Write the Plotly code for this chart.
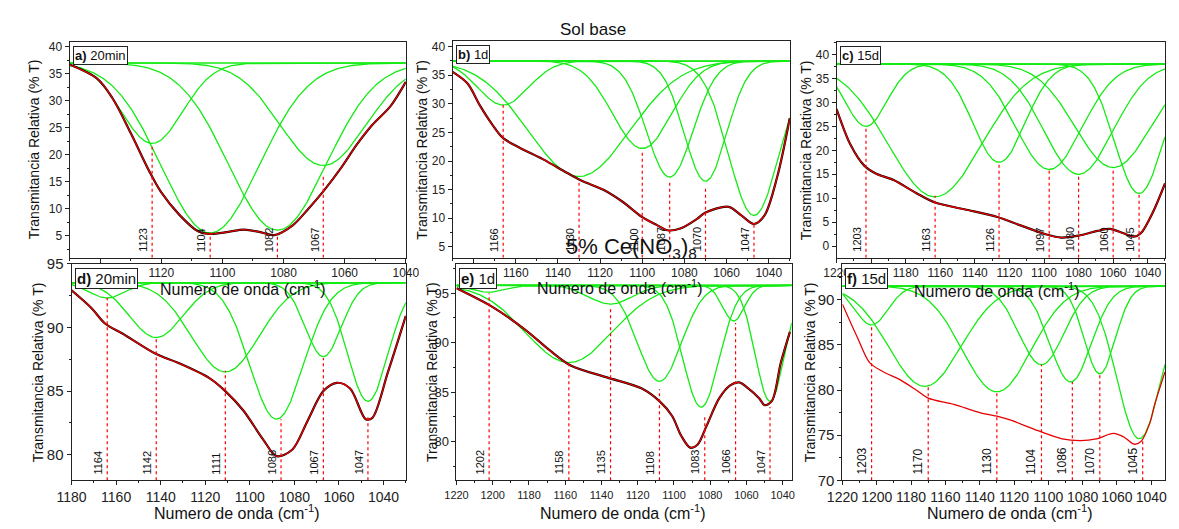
import numpy as np
import plotly.graph_objects as go

W, H = 1179, 529
FONT = "Liberation Sans, Arial, sans-serif"

# ----------------------------- data -----------------------------
# a) 20min  (Sol base)
a_wn = [1150, 1141, 1136, 1130, 1124, 1120, 1114, 1108, 1104, 1098, 1093, 1088, 1083, 1077, 1072, 1067, 1061, 1056, 1051, 1045, 1040]
a_T = [36.7, 34.1, 30.5, 24.0, 17.0, 13.0, 8.8, 5.8, 5.3, 5.7, 6.1, 5.7, 5.1, 6.9, 9.9, 13.2, 17.7, 21.9, 25.5, 29.0, 33.5]
a_pk_center = [1123, 1104, 1082, 1067]
a_pk_min = [22.1, 5.5, 6.0, 18.0]
a_pk_width = [10, 16, 16, 14]
a_lines = [1123, 1104, 1082, 1067]
a_line_top = [22.0, 5.6, 5.4, 16.4]
a_baseline = 37.0

# b) 1d  (Sol base)
b_wn = [1190, 1183, 1177, 1171, 1166, 1158, 1147, 1136, 1129, 1118, 1109, 1100, 1093, 1088, 1082, 1074, 1070, 1059, 1053, 1047, 1042, 1036, 1030]
b_T = [35.6, 33.6, 29.7, 26.3, 24.0, 22.3, 20.3, 18.0, 16.6, 14.9, 12.8, 10.2, 8.8, 7.9, 8.2, 9.9, 11.0, 12.0, 10.5, 9.0, 10.5, 17.2, 27.5]
b_pk_center = [1166, 1130, 1100, 1087, 1070, 1047]
b_pk_min = [29.8, 17.3, 22.2, 17.2, 16.5, 10.5]
b_pk_width = [12, 24, 14, 11, 10, 12]
b_lines = [1166, 1130, 1100, 1087, 1070, 1047]
b_line_top = [29.8, 16.5, 22.0, 16.2, 15.2, 9.2]
b_baseline = 37.5

# c) 15d  (Sol base)
c_wn = [1220, 1212, 1204, 1197, 1187, 1174, 1163, 1146, 1127, 1114, 1099, 1090, 1080, 1069, 1062, 1054, 1048, 1044, 1037, 1030]
c_T = [28.6, 21.2, 16.8, 15.1, 13.8, 11.1, 9.1, 7.7, 6.1, 4.4, 2.5, 1.8, 2.2, 3.2, 3.6, 2.7, 2.0, 2.7, 7.1, 13.1]
c_pk_center = [1203, 1163, 1126, 1097, 1080, 1060, 1045]
c_pk_min = [25.0, 10.3, 17.5, 16.0, 15.0, 16.4, 11.0]
c_pk_width = [12, 27, 15, 19, 20, 22, 14]
c_lines = [1203, 1163, 1126, 1097, 1080, 1060, 1045]
c_line_top = [25.0, 10.5, 17.5, 16.0, 15.0, 16.4, 11.0]
c_baseline = 38.0

# d) 20min  (5% Ce(NO3))
d_wn = [1180, 1171, 1165, 1157, 1142, 1132, 1118, 1111, 1103, 1094, 1088, 1081, 1074, 1067, 1061, 1055, 1048, 1045, 1038, 1030]
d_T = [92.9, 91.5, 90.3, 89.5, 87.9, 87.2, 86.0, 85.0, 83.5, 81.2, 79.9, 80.4, 82.7, 85.0, 85.65, 85.2, 82.8, 82.9, 86.5, 90.9]
d_pk_center = [1164, 1142, 1111, 1088, 1067, 1047]
d_pk_min = [92.3, 89.2, 86.5, 82.8, 87.7, 84.2]
d_pk_width = [8, 12, 15, 12, 8, 9]
d_lines = [1164, 1142, 1111, 1086, 1067, 1047]
d_line_top = [92.3, 89.2, 86.6, 82.8, 87.6, 83.0]
d_baseline = 93.5

# e) 1d  (5% Ce(NO3))
e_wn = [1220, 1200, 1182, 1169, 1157, 1137, 1118, 1108, 1101, 1096, 1091, 1087, 1082, 1075, 1069, 1064, 1059, 1053, 1050, 1046, 1041, 1036]
e_T = [95.5, 93.6, 91.3, 89.3, 87.7, 86.5, 85.4, 84.1, 82.6, 80.6, 79.4, 79.7, 81.6, 84.4, 85.7, 86.0, 85.4, 84.4, 83.7, 84.1, 88.0, 91.1]
e_pk_center = [1202, 1158, 1135, 1108, 1085, 1067, 1047]
e_pk_min = [95.1, 88.0, 93.9, 86.1, 83.5, 92.2, 84.1]
e_pk_width = [9, 24, 12, 12, 10, 6, 8]
e_lines = [1202, 1158, 1135, 1108, 1083, 1066, 1047]
e_line_top = [95.0, 88.0, 93.6, 85.3, 82.7, 92.0, 83.5]
e_baseline = 95.8

# f) 15d  (5% Ce(NO3))
f_wn = [1220, 1211, 1204, 1196, 1187, 1177, 1170, 1155, 1140, 1130, 1121, 1106, 1092, 1081, 1072, 1062, 1056, 1050, 1046, 1041, 1038, 1032]
f_T = [89.5, 85.7, 83.0, 82.0, 81.2, 80.0, 79.1, 78.4, 77.5, 77.1, 76.6, 75.5, 74.6, 74.4, 74.6, 75.2, 74.8, 74.0, 74.3, 76.25, 78.4, 82.0]
f_pk_center = [1203, 1172, 1130, 1104, 1087, 1070, 1047]
f_pk_min = [87.2, 80.4, 79.8, 82.8, 80.9, 81.8, 74.6]
f_pk_width = [9.5, 21, 20, 13, 12, 9, 13]
f_lines = [1203, 1170, 1130, 1104, 1086, 1070, 1045]
f_line_top = [87.2, 80.4, 79.8, 82.8, 80.9, 81.8, 74.6]
f_baseline = 91.5

panel_labels = ["<b>a)</b> 20min", "<b>b)</b> 1d", "<b>c)</b> 15d",
                "<b>d)</b> 20min", "<b>e)</b> 1d", "<b>f)</b> 15d"]
title_top = "Sol base"
title_bottom = "5% Ce(NO<sub>3</sub>)<sub>8</sub>"
x_title = "Numero de onda (cm<sup>-1</sup>)"
y_title = "Transmitancia Relativa (% T)"

# ----------------------------- layout geometry -----------------------------
panels = [
    dict(wn=a_wn, T=a_T, pc=a_pk_center, pm=a_pk_min, pw=a_pk_width, ln=a_lines, lt=a_line_top, base=a_baseline,
         xr=[1150, 1040], yr=[0.9, 40.9], box=(55, 34, 400, 257), black=True,
         xtf=12, ytf=12, nf=11, lf=13, ytx=18, xty=288, xtx=233),
    dict(wn=b_wn, T=b_T, pc=b_pk_center, pm=b_pk_min, pw=b_pk_width, ln=b_lines, lt=b_line_top, base=b_baseline,
         xr=[1190, 1030], yr=[3.1, 41.0], box=(448, 33, 794, 257), black=True,
         xtf=12, ytf=12, nf=11, lf=13, ytx=417, xty=287, xtx=620),
    dict(wn=c_wn, T=c_T, pc=c_pk_center, pm=c_pk_min, pw=c_pk_width, ln=c_lines, lt=c_line_top, base=c_baseline,
         xr=[1220, 1030], yr=[-2.4, 42.6], box=(842, 34, 1179, 257), black=True,
         xtf=12, ytf=12, nf=11, lf=13, ytx=810, xty=290, xtx=1007),
    dict(wn=d_wn, T=d_T, pc=d_pk_center, pm=d_pk_min, pw=d_pk_width, ln=d_lines, lt=d_line_top, base=d_baseline,
         xr=[1180, 1030], yr=[78.0, 95.0], box=(57, 263, 400, 487), black=True,
         xtf=14, ytf=15, nf=11, lf=15, ytx=23, xty=520, xtx=227),
    dict(wn=e_wn, T=e_T, pc=e_pk_center, pm=e_pk_min, pw=e_pk_width, ln=e_lines, lt=e_line_top, base=e_baseline,
         xr=[1220, 1035], yr=[76.1, 98.0], box=(452, 263, 796, 487), black=True,
         xtf=11, ytf=13, nf=11, lf=15, ytx=427, xty=520, xtx=623),
    dict(wn=f_wn, T=f_T, pc=f_pk_center, pm=f_pk_min, pw=f_pk_width, ln=f_lines, lt=f_line_top, base=f_baseline,
         xr=[1220, 1032], yr=[70.0, 94.0], box=(848, 263, 1179, 487), black=False,
         xtf=14, ytf=15, nf=12, lf=15, ytx=815, xty=520, xtx=1020),
]

GREEN = "rgb(20,235,20)"
fig = go.Figure()
annotations = []

for i, p in enumerate(panels):
    n = i + 1
    sx = "" if n == 1 else str(n)
    xa, ya = "x" + sx, "y" + sx
    x0, y0, x1, y1 = p["box"]

    grid = np.linspace(min(p["xr"]), max(p["xr"]), 400)
    # baseline
    fig.add_trace(go.Scatter(x=[grid[0], grid[-1]], y=[p["base"], p["base"]], mode="lines",
                             line=dict(color=GREEN, width=1.6), xaxis=xa, yaxis=ya, hoverinfo="skip"))
    # gaussian components
    for c, m, w in zip(p["pc"], p["pm"], p["pw"]):
        yy = p["base"] - (p["base"] - m) * np.exp(-((grid - c) ** 2) / (2 * w ** 2))
        fig.add_trace(go.Scatter(x=grid, y=yy, mode="lines", line=dict(color=GREEN, width=1.3),
                                 xaxis=xa, yaxis=ya, hoverinfo="skip"))
    # experimental (black) + fit (red)
    if p["black"]:
        fig.add_trace(go.Scatter(x=p["wn"], y=p["T"], mode="lines",
                                 line=dict(color="black", width=2.2, shape="spline", smoothing=0.9),
                                 xaxis=xa, yaxis=ya))
    fig.add_trace(go.Scatter(x=p["wn"], y=p["T"], mode="lines",
                             line=dict(color="rgb(230,0,0)", width=1.3, shape="spline", smoothing=0.9),
                             xaxis=xa, yaxis=ya))
    # dashed peak markers
    for v, t in zip(p["ln"], p["lt"]):
        fig.add_trace(go.Scatter(x=[v, v], y=[p["yr"][0], t], mode="lines",
                                 line=dict(color="red", width=1.2, dash="dot"),
                                 xaxis=xa, yaxis=ya, hoverinfo="skip"))
        annotations.append(dict(x=v, y=0, xref=xa, yref=ya + " domain", text=str(v), showarrow=False,
                                textangle=-90, xanchor="right", yanchor="bottom", xshift=-1, yshift=4,
                                font=dict(size=p["nf"], color="#111", family=FONT)))

    tickfont_x = dict(size=p["xtf"], color="#222", family=FONT)
    tickfont_y = dict(size=p["ytf"], color="#222", family=FONT)
    fig.layout["xaxis" + sx] = dict(
        domain=[x0 / W, x1 / W], range=p["xr"], anchor=ya, tick0=1040, dtick=20,
        ticks="outside", ticklen=4, tickcolor="#222", showline=True, mirror=True,
        linecolor="#222", linewidth=1, showgrid=False, zeroline=False, tickfont=tickfont_x,
        minor=dict(ticks="outside", ticklen=2, tick0=1040, dtick=10, tickcolor="#222", showgrid=False))
    fig.layout["yaxis" + sx] = dict(
        domain=[1 - y1 / H, 1 - y0 / H], range=p["yr"], anchor=xa, tick0=0, dtick=5,
        ticks="outside", ticklen=4, tickcolor="#222", showline=True, mirror=True,
        linecolor="#222", linewidth=1, showgrid=False, zeroline=False, tickfont=tickfont_y,
        minor=dict(ticks="outside", ticklen=2, tick0=0, dtick=2.5, tickcolor="#222", showgrid=False))

    # panel label box
    annotations.append(dict(x=0, y=1, xref=xa + " domain", yref=ya + " domain", text=panel_labels[i],
                            showarrow=False, xanchor="left", yanchor="top", xshift=3, yshift=-4,
                            bgcolor="white", bordercolor="#222", borderwidth=1, borderpad=1,
                            font=dict(size=p["lf"], color="#111", family=FONT)))
    # y title
    annotations.append(dict(x=p["ytx"] / W, y=1 - ((y0 + y1) / 2) / H, xref="paper", yref="paper",
                            text=y_title, showarrow=False, textangle=-90, xanchor="center", yanchor="middle",
                            font=dict(size=14, color="#111", family=FONT)))
    # x title
    annotations.append(dict(x=p["xtx"] / W, y=1 - p["xty"] / H, xref="paper", yref="paper",
                            text=x_title, showarrow=False, xanchor="center", yanchor="middle",
                            font=dict(size=16, color="#111", family=FONT)))

annotations.append(dict(x=592 / W, y=1 - 21 / H, xref="paper", yref="paper", text=title_top,
                        showarrow=False, xanchor="center", yanchor="middle",
                        font=dict(size=17, color="#111", family=FONT)))
annotations.append(dict(x=632 / W, y=1 - 247 / H, xref="paper", yref="paper", text=title_bottom,
                        showarrow=False, xanchor="center", yanchor="middle",
                        font=dict(size=22, color="#111", family=FONT)))

fig.update_layout(width=W, height=H, margin=dict(l=0, r=0, t=0, b=0), showlegend=False,
                  paper_bgcolor="white", plot_bgcolor="white", annotations=annotations,
                  font=dict(family=FONT))
fig.write_html("out.html")
